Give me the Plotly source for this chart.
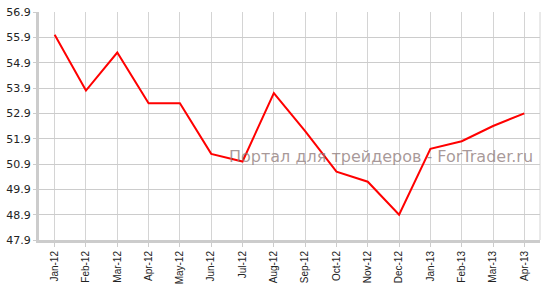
import plotly.graph_objects as go

months = ["Jan-12", "Feb-12", "Mar-12", "Apr-12", "May-12", "Jun-12", "Jul-12", "Aug-12",
          "Sep-12", "Oct-12", "Nov-12", "Dec-12", "Jan-13", "Feb-13", "Mar-13", "Apr-13"]
values = [56.0, 53.8, 55.3, 53.3, 53.3, 51.3, 51.0, 53.7,
          52.2, 50.6, 50.2, 48.9, 51.5, 51.8, 52.4, 52.9]
y_ticks = [47.9, 48.9, 49.9, 50.9, 51.9, 52.9, 53.9, 54.9, 55.9, 56.9]
watermark = "Портал для трейдеров - ForTrader.ru"

fig = go.Figure()
fig.add_trace(go.Scatter(x=months, y=values, mode="lines",
                         line=dict(color="#ff0000", width=2), hoverinfo="x+y"))

fig.update_layout(
    width=546, height=290,
    margin=dict(l=36, r=6, t=7, b=48),
    paper_bgcolor="white", plot_bgcolor="white",
    showlegend=False,
    font=dict(family="DejaVu Sans", size=11, color="#222222"),
    annotations=[dict(text=watermark, xref="paper", yref="paper", x=0.99, y=0.365,
                      xanchor="right", yanchor="middle", showarrow=False,
                      font=dict(family="DejaVu Sans", size=16, color="rgba(140,120,120,0.75)"))],
)
fig.update_xaxes(
    type="category", range=[-0.5, 15.5], tickangle=-90,
    showgrid=True, gridcolor="#d4d4d4", gridwidth=1,
    showline=True, linecolor="#cccccc", linewidth=3,
    ticks="outside", ticklen=4, tickcolor="#cccccc",
    tickfont=dict(family="Liberation Sans", size=10, color="#222222"),
    zeroline=False, mirror=False,
)
fig.update_yaxes(
    range=[47.9, 56.9], tickvals=y_ticks, ticktext=[f"{v:.1f}" for v in y_ticks],
    showgrid=True, gridcolor="#cccccc", gridwidth=1,
    showline=True, linecolor="#cccccc", linewidth=3,
    ticks="outside", ticklen=3, tickcolor="#cccccc",
    tickfont=dict(family="DejaVu Sans", size=11, color="#222222"),
    zeroline=False,
)
fig.add_shape(type="line", xref="paper", yref="paper", x0=1, x1=1, y0=0, y1=1,
              line=dict(color="#d4d4d4", width=1), layer="below")

fig.write_html("out.html")
